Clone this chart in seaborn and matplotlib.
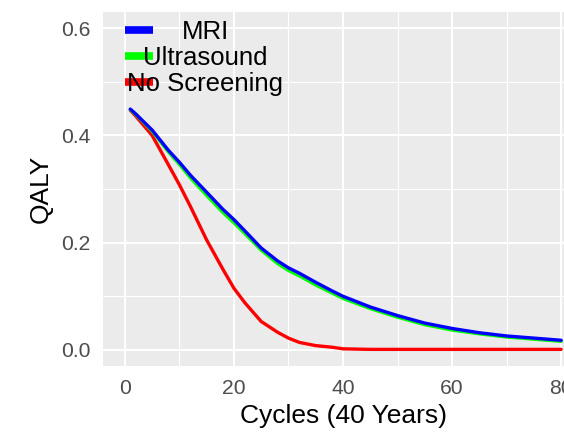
import numpy as np
import pandas as pd
import matplotlib
matplotlib.use("Agg")
import matplotlib.pyplot as plt
import seaborn as sns
from matplotlib.ticker import MultipleLocator

cycles = [1, 2, 3, 5, 8, 10, 12, 15, 18, 20, 22, 25, 28, 30, 32, 35, 38, 40,
          45, 50, 55, 60, 65, 70, 75, 80]
mri = [0.449, 0.440, 0.430, 0.410, 0.372, 0.350, 0.326, 0.294, 0.262, 0.243,
       0.222, 0.190, 0.166, 0.153, 0.143, 0.126, 0.110, 0.100,
       0.080, 0.064, 0.050, 0.040, 0.032, 0.026, 0.022, 0.018]
ultrasound = [0.448, 0.439, 0.429, 0.408, 0.369, 0.346, 0.321, 0.288, 0.256, 0.237,
              0.217, 0.186, 0.161, 0.148, 0.138, 0.121, 0.106, 0.096,
              0.077, 0.061, 0.047, 0.037, 0.030, 0.024, 0.020, 0.016]
no_screening = [0.447, 0.436, 0.424, 0.400, 0.345, 0.308, 0.268, 0.205, 0.150, 0.115,
                0.088, 0.053, 0.033, 0.022, 0.014, 0.008, 0.005, 0.002,
                0.001, 0.001, 0.001, 0.001, 0.001, 0.001, 0.001, 0.001]
series_names = ["MRI", "Ultrasound", "No Screening"]
series_colors = ["#0000FF", "#00FF00", "#FF0000"]
x_ticks = [0, 20, 40, 60, 80]
y_ticks = [0.0, 0.2, 0.4, 0.6]
x_label = "Cycles (40 Years)"
y_label = "QALY"

df = pd.concat([
    pd.DataFrame({"Cycle": cycles, "QALY": vals, "Strategy": name})
    for name, vals in zip(series_names, [mri, ultrasound, no_screening])
], ignore_index=True)

sns.set_theme(style="darkgrid")
plt.rcParams["font.family"] = ["Liberation Sans", "DejaVu Sans"]

W, H = 564, 436
fig = plt.figure(figsize=(W / 100, H / 100), dpi=100)
ax = fig.add_axes([103 / W, 1 - 366 / H, 480 / W, 354 / H])
ax.set_facecolor("#EBEBEB")

palette = dict(zip(series_names, series_colors))
# draw No Screening first, MRI last (on top)
sns.lineplot(data=df, x="Cycle", y="QALY", hue="Strategy",
             hue_order=series_names[::-1], palette=palette,
             linewidth=2.4, ax=ax, legend=False, estimator=None, sort=True)

ax.set_xlim(-4, 84)
ax.set_ylim(-0.03, 0.63)
ax.set_xticks(x_ticks)
ax.set_yticks(y_ticks)
ax.set_yticklabels([f"{v:.1f}" for v in y_ticks])
ax.xaxis.set_minor_locator(MultipleLocator(10))
ax.yaxis.set_minor_locator(MultipleLocator(0.1))
ax.grid(which="major", color="white", linewidth=1.5)
ax.grid(which="minor", color="white", linewidth=0.8)
ax.set_axisbelow(True)
for s in ax.spines.values():
    s.set_visible(False)
ax.tick_params(axis="both", which="major", length=4.7, width=1.1, color="#333333",
               labelcolor="#4D4D4D", labelsize=15.2)
ax.tick_params(axis="x", which="major", pad=4.3)
ax.tick_params(axis="y", which="major", pad=4.5)
ax.tick_params(which="minor", length=0)
ax.set_xlabel(x_label, fontsize=19, color="black", labelpad=5)
ax.set_ylabel(y_label, fontsize=19, color="black", labelpad=6)

handles = [plt.Line2D([], [], color=c, linewidth=5.5, solid_capstyle="butt")
           for c in series_colors]
leg = ax.legend(handles, series_names, loc="upper left",
                bbox_to_anchor=(125 / W, 1 - 20 / H), bbox_transform=fig.transFigure,
                frameon=False, fontsize=18.5, handlelength=1.09,
                handletextpad=-1.0, labelspacing=0.08, borderpad=0,
                borderaxespad=0)
for t in leg.get_texts():
    t.set_color("black")

fig.canvas.draw()
r = fig.canvas.get_renderer()
widths = [t.get_window_extent(r).width for t in leg.get_texts()]
mw = max(widths)
for t, w in zip(leg.get_texts(), widths):
    t.set_position(((mw - w) / 2, 0))

fig.savefig("out.png", dpi=100)
